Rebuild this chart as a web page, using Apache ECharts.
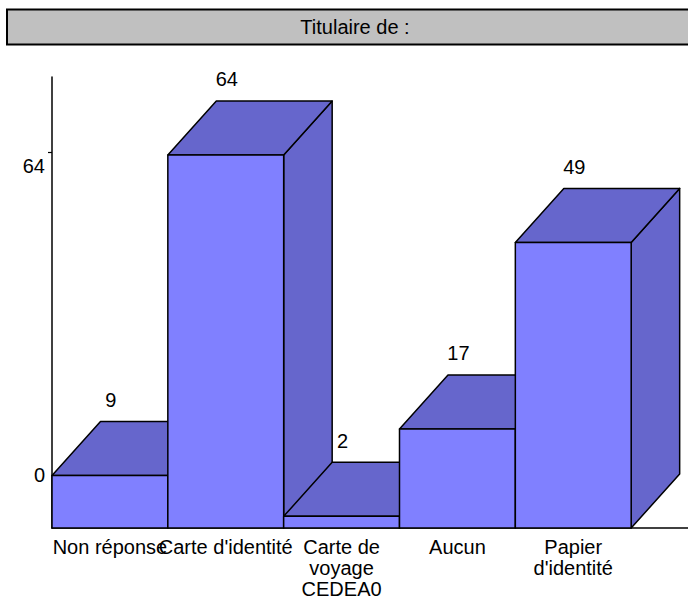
<!DOCTYPE html>
<html><head><meta charset="utf-8">
<script src="https://cdn.jsdelivr.net/npm/echarts@6/dist/echarts.min.js"></script>
<style>html,body{margin:0;padding:0;background:#fff}#c{width:688px;height:600px}</style>
</head><body><div id="c"></div>
<script>
const titleText = 'Titulaire de :';
const categories = ['Non réponse', "Carte d'identité", 'Carte de\nvoyage\nCEDEA0', 'Aucun', "Papier\nd'identité"];
const values = [9, 64, 2, 17, 49];
const yLabelValues = [0, 64];
const yTickValues = [64];

const FONT = '"Liberation Sans", Arial, sans-serif';
const FRONT = '#8080ff', SHADE = '#6666cc';
const DX = 48.5, DY = -54;

const chart = echarts.init(document.getElementById('c'), null, {renderer: 'svg'});
chart.setOption({
  animation: false,
  backgroundColor: '#fff',
  graphic: [
    {type: 'rect', z: 10, shape: {x: 7, y: 9.5, width: 700, height: 35},
     style: {fill: '#c0c0c0', stroke: '#000', lineWidth: 2}},
    {type: 'text', z: 11, x: 355, y: 27,
     style: {text: titleText, font: '20px ' + FONT, fill: '#000', textAlign: 'center', textVerticalAlign: 'middle'}}
  ],
  grid: {left: 52, top: 77, width: 695, height: 451, outerBoundsMode: 'none', containLabel: false},
  xAxis: {
    type: 'category', data: categories, max: 5,
    axisLine: {lineStyle: {color: '#000', width: 1.5}},
    axisTick: {length: 13, interval: function (i) { return i !== 0; }, lineStyle: {color: '#000', width: 1.5}},
    axisLabel: {interval: 0, fontSize: 20, fontFamily: FONT, color: '#000', margin: 8, lineHeight: 21}
  },
  yAxis: [
    {type: 'value', min: 0, max: 77.38, show: false, position: 'left'},
    {type: 'value', min: -13.88, max: 79.53, position: 'left',
     splitLine: {show: false},
     axisLine: {show: true, lineStyle: {color: '#000', width: 1.5}},
     axisTick: {show: true, length: 4, customValues: yTickValues, lineStyle: {color: '#000', width: 1.2}},
     axisLabel: {customValues: yLabelValues, fontSize: 20, fontFamily: FONT, color: '#000', margin: 7,
                 verticalAlign: 'top', lineHeight: 28}}
  ],
  series: [{
    type: 'custom',
    xAxisIndex: 0, yAxisIndex: 0,
    data: values.map(function (v, i) { return [i, v]; }),
    renderItem: function (params, api) {
      const idx = api.value(0), v = api.value(1);
      const top = api.coord([idx, v]);
      const base = api.coord([idx, 0]);
      const w = api.size([1, 0])[0];
      const x0 = top[0] - w / 2, x1 = top[0] + w / 2, yT = top[1], yB = base[1];
      const ls = {stroke: '#000', lineWidth: 1.5, lineJoin: 'round'};
      return {type: 'group', children: [
        {type: 'polygon', shape: {points: [[x1, yT], [x1 + DX, yT + DY], [x1 + DX, yB + DY], [x1, yB]]},
         style: Object.assign({fill: SHADE}, ls)},
        {type: 'polygon', shape: {points: [[x0, yT], [x0 + DX, yT + DY], [x1 + DX, yT + DY], [x1, yT]]},
         style: Object.assign({fill: SHADE}, ls)},
        {type: 'rect', shape: {x: x0, y: yT, width: w, height: yB - yT},
         style: Object.assign({fill: FRONT}, ls)},
        {type: 'text', x: top[0] + 1, y: yT + DY - 21.5,
         style: {text: String(v), font: '20px ' + FONT, fill: '#000', textAlign: 'center', textVerticalAlign: 'middle'}}
      ]};
    }
  }]
});
</script></body></html>
